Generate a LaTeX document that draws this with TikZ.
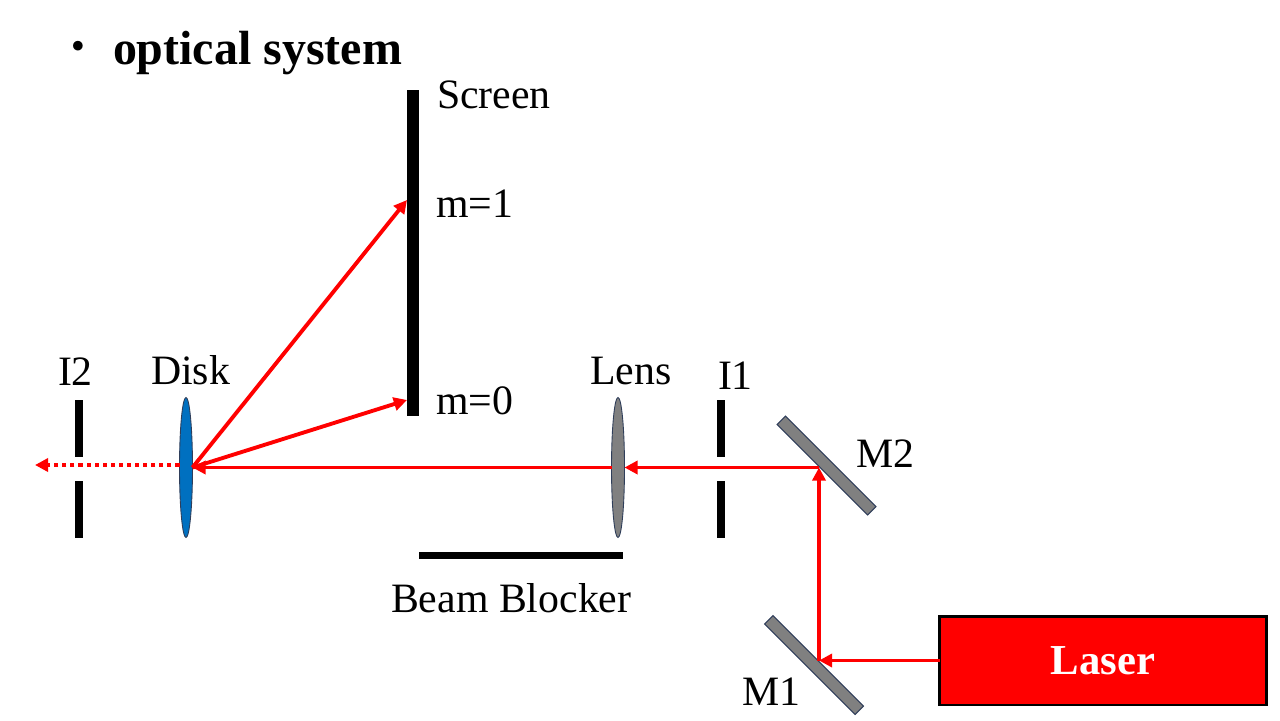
\documentclass[tikz,border=0pt]{standalone}
\usepackage{fontspec}
\setmainfont{Liberation Serif}
\newfontfamily\cjk{Noto Sans CJK JP}
\usepackage{xcolor}
\usetikzlibrary{arrows.meta, shapes.geometric}
\definecolor{optred}{RGB}{255, 0, 0}
\definecolor{optgray}{RGB}{128, 128, 128}
\definecolor{optblue}{RGB}{0, 112, 192}
\definecolor{optedge}{RGB}{47, 62, 90}

\begin{document}
\begin{tikzpicture}[
    x=0.02cm, y=-0.02cm,
    every node/.style={inner sep=0pt, outer sep=0pt},
    bar/.style={fill=black, minimum width=0.16cm, minimum height=1.14cm},
    lensbody/.style={draw=optedge, line width=0.5pt, ellipse,
                minimum width=0.26cm, minimum height=2.8cm},
    mirror/.style={draw=optedge, line width=0.6pt, fill=optgray,
                minimum height=0.24cm, rotate=-45},
    txt/.style={anchor=base west, font=\fontsize{23.8}{26}\selectfont},
    beam/.style={-{Triangle[length=7.5pt, width=7.5pt]}, draw=optred,
                line width=2.2pt},
  ]
    \useasboundingbox (0,0) rectangle (1280,720);

    % Title
    \node[anchor=center, font=\cjk\fontsize{26}{30}\selectfont] (bullet) at (78,52) {・};
    \node[anchor=base west, font=\fontsize{27.3}{30}\selectfont\bfseries] (title) at (113,64) {optical system};

    % Screen and blocker
    \node[fill=black, minimum width=0.24cm, minimum height=6.52cm] (screen) at (413,253) {};
    \node[fill=black, minimum width=4.08cm, minimum height=0.15cm] (blocker) at (521,555.5) {};

    % Iris pairs
    \node[bar] (i2top) at (79,428.5) {};
    \node[bar] (i2bot) at (79,509.5) {};
    \node[bar] (i1top) at (721,428.5) {};
    \node[bar] (i1bot) at (721,509.5) {};

    % Disk and lens
    \node[lensbody, fill=optblue] (disk) at (186,467.5) {};
    \node[lensbody, fill=optgray] (lens) at (618,467.5) {};

    % Mirrors
    \node[mirror, minimum width=2.56cm] (m2) at (826.5,465.5) {};
    \node[mirror, minimum width=2.56cm] (m1) at (814,665) {};

    % Laser
    \node[draw=black, line width=1.7pt, fill=optred, minimum width=6.54cm,
          minimum height=1.78cm, text=white, font=\fontsize{24.3}{28}\selectfont\bfseries] (laser) at (1103,660.5) {Laser};

    % Points the beam hits
    \coordinate (hit1) at (819,660.5);
    \coordinate (hit2) at (819,467.5);
    \coordinate (mone) at (407,200);
    \coordinate (mzero) at (407,400);
    \coordinate (out) at (35,465);

    % Labels
    \node[txt] (lscreen) at (437,108) {Screen};
    \node[txt] (lmone) at (436,217) {m=1};
    \node[txt] (lmzero) at (436,414) {m=0};
    \node[txt] (llens) at (590,384) {Lens};
    \node[txt] (li1) at (718,389) {I1};
    \node[txt] (li2) at (58,385) {I2};
    \node[txt] (ldisk) at (151,384) {Disk};
    \node[txt] (lm2) at (856,467) {M2};
    \node[txt] (lm1) at (742,705) {M1};
    \node[txt] (lblocker) at (391,612) {Beam Blocker};

    \draw[beam] (laser.west) -- (hit1);
    \draw[beam] (hit1) -- (hit2);
    \draw[beam] (hit2) -- (lens.east);
    \draw[beam] (lens.west) -- (disk.east);
    \draw[beam] (disk.east) -- (mzero);
    \draw[beam] (disk.east) -- (mone);
    \draw[beam, dash pattern=on 2.3pt off 2.3pt] (disk.west |- out) -- (out);
  \end{tikzpicture}
\end{document}
